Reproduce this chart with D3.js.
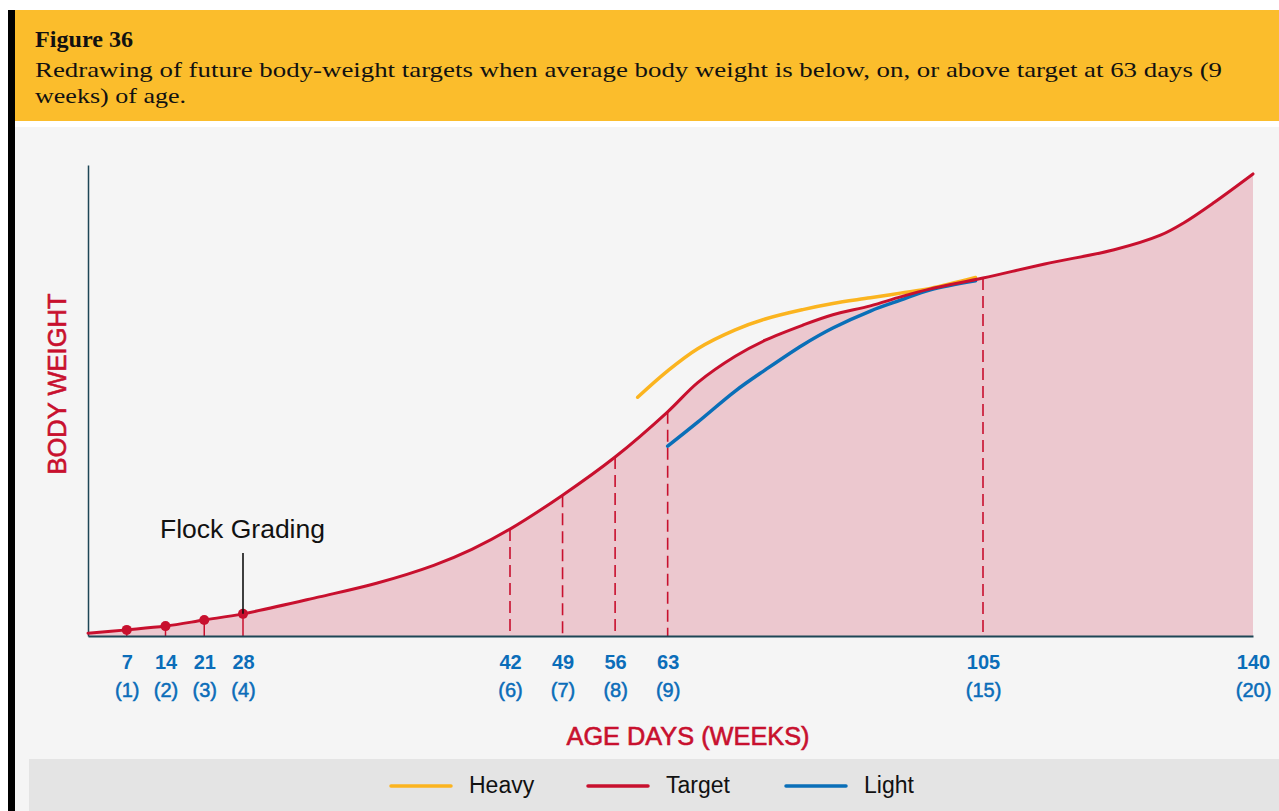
<!DOCTYPE html>
<html>
<head>
<meta charset="utf-8">
<script src="https://cdn.jsdelivr.net/npm/d3@7"></script>
<style>
  html, body { margin: 0; padding: 0; background: #ffffff; }
  svg { display: block; }
</style>
</head>
<body>
<svg id="chart" width="1279" height="811"></svg>
<script>
// ---------- data (y is in relative units 0–100) ----------
const tickDays  = [7, 14, 21, 28, 42, 49, 56, 63, 105, 140];
const tickWeeks = ["(1)", "(2)", "(3)", "(4)", "(6)", "(7)", "(8)", "(9)", "(15)", "(20)"];

const targetDays   = [0, 7, 14, 21, 28, 32, 35, 38, 40, 42, 49, 56, 63, 67, 72, 76, 81, 85, 90, 94, 98, 105, 113, 122, 128, 131, 135, 140];
const targetValues = [0.6, 1.3, 2.1, 3.4, 4.7, 8.3, 11.2, 15.0, 18.4, 22.7, 29.9, 38.0, 47.6, 53.8, 59.4, 62.8, 66.0, 68.2, 70.1, 72.0, 73.7, 76.0, 79.0, 82.0, 85.1, 87.7, 92.1, 98.1];

const heavyDays   = [59, 63, 67, 72, 76, 81, 85, 90, 94, 98, 104];
const heavyValues = [50.7, 56.3, 61.0, 65.0, 67.3, 69.3, 70.6, 71.8, 72.8, 73.8, 76.1];

const lightDays   = [63, 67, 72, 76, 81, 85, 90, 94, 98, 104];
const lightValues = [40.3, 45.4, 52.0, 56.5, 61.8, 65.4, 69.0, 71.3, 73.5, 75.4];

const gradingDays = [7, 14, 21, 28];
const dashedDays  = [42, 49, 56, 63, 105];

const legendNames = ["Heavy", "Target", "Light"];

// ---------- styles ----------
const RED = "#c8102e", YELLOW = "#fbb41f", BLUE = "#0a6fb8", TICKBLUE = "#0b6db9";
const FILL = "#ecc8cf", AXIS = "#1d4656";
const SANS = "'Liberation Sans', Arial, Helvetica, sans-serif";
const SERIF = "'Liberation Serif', 'Times New Roman', serif";

const svg = d3.select("#chart");

// page / panels
svg.append("rect").attr("x", 0).attr("y", 0).attr("width", 1279).attr("height", 811).attr("fill", "#ffffff");
svg.append("rect").attr("x", 15).attr("y", 10).attr("width", 1264).attr("height", 111).attr("fill", "#fbbd2c");
svg.append("rect").attr("x", 15).attr("y", 127).attr("width", 1264).attr("height", 684).attr("fill", "#f5f5f5");
svg.append("rect").attr("x", 29).attr("y", 759).attr("width", 1250).attr("height", 52).attr("fill", "#e4e4e4");
svg.append("rect").attr("x", 8).attr("y", 10).attr("width", 7).attr("height", 801).attr("fill", "#000000");

// header text
svg.append("text").attr("x", 35).attr("y", 47)
  .attr("font-family", SERIF).attr("font-weight", "bold").attr("font-size", 23)
  .attr("fill", "#111").attr("textLength", 98).attr("lengthAdjust", "spacingAndGlyphs")
  .text("Figure 36");
svg.append("text").attr("x", 35).attr("y", 77)
  .attr("font-family", SERIF).attr("font-size", 21).attr("fill", "#111")
  .attr("textLength", 1187).attr("lengthAdjust", "spacingAndGlyphs")
  .text("Redrawing of future body-weight targets when average body weight is below, on, or above target at 63 days (9");
svg.append("text").attr("x", 35).attr("y", 103)
  .attr("font-family", SERIF).attr("font-size", 21).attr("fill", "#111")
  .attr("textLength", 151).attr("lengthAdjust", "spacingAndGlyphs")
  .text("weeks) of age.");

// ---------- scales ----------
const x = d3.scaleLinear().domain([0, 28, 42, 105, 140]).range([88, 243, 510, 983, 1253]);
const y = d3.scaleLinear().domain([0, 100]).range([636, 165]);

const target = targetDays.map((d, i) => ({ day: d, v: targetValues[i] }));
const heavy  = heavyDays.map((d, i) => ({ day: d, v: heavyValues[i] }));
const light  = lightDays.map((d, i) => ({ day: d, v: lightValues[i] }));
const tv = d => target[targetDays.indexOf(d)].v;
const curve = d3.curveCatmullRom.alpha(0.5);

// area under target
svg.append("path").datum(target)
  .attr("fill", FILL)
  .attr("d", d3.area().x(d => x(d.day)).y0(y(0)).y1(d => y(d.v)).curve(curve));

// dashed verticals
svg.append("g").selectAll("line").data(dashedDays).join("line")
  .attr("x1", d => x(d)).attr("x2", d => x(d))
  .attr("y1", d => y(tv(d))).attr("y2", y(0))
  .attr("stroke", RED).attr("stroke-width", 1.6).attr("stroke-dasharray", "12,6");

// grading stems
svg.append("g").selectAll("line").data(gradingDays).join("line")
  .attr("x1", d => x(d)).attr("x2", d => x(d))
  .attr("y1", d => y(tv(d))).attr("y2", y(0))
  .attr("stroke", RED).attr("stroke-width", 1.5);

// axes
const yAxis = svg.append("g").attr("transform", `translate(${x(0)},0)`)
  .call(d3.axisLeft(y).tickValues([]).tickSizeOuter(0));
yAxis.select(".domain").attr("stroke", AXIS).attr("stroke-width", 1.5);

const xAxis = svg.append("g").attr("transform", `translate(0,${y(0)})`)
  .call(d3.axisBottom(x).tickValues(tickDays).tickSize(0).tickFormat(""));
xAxis.select(".domain").attr("stroke", AXIS).attr("stroke-width", 2);
xAxis.selectAll(".tick text").remove();
xAxis.selectAll(".tick").each(function (d, i) {
  const g = d3.select(this);
  g.append("text").attr("y", 33).attr("text-anchor", "middle")
    .attr("font-family", SANS).attr("font-weight", "bold").attr("font-size", 20)
    .attr("fill", TICKBLUE).text(d);
  g.append("text").attr("y", 61).attr("text-anchor", "middle")
    .attr("font-family", SANS).attr("font-size", 20)
    .attr("fill", TICKBLUE).attr("stroke", TICKBLUE).attr("stroke-width", 0.5)
    .text(tickWeeks[i]);
});

// lines
const line = d3.line().x(d => x(d.day)).y(d => y(d.v)).curve(curve);
svg.append("path").datum(heavy).attr("fill", "none").attr("stroke", YELLOW)
  .attr("stroke-width", 3.5).attr("stroke-linecap", "round").attr("d", line);
svg.append("path").datum(light).attr("fill", "none").attr("stroke", BLUE)
  .attr("stroke-width", 3.5).attr("stroke-linecap", "round").attr("d", line);
svg.append("path").datum(target).attr("fill", "none").attr("stroke", RED)
  .attr("stroke-width", 3).attr("stroke-linecap", "round").attr("d", line);

// grading dots
svg.append("g").selectAll("circle").data(gradingDays).join("circle")
  .attr("cx", d => x(d)).attr("cy", d => y(tv(d))).attr("r", 5).attr("fill", RED);

// flock grading annotation
svg.append("line").attr("x1", x(28)).attr("x2", x(28)).attr("y1", 553).attr("y2", y(tv(28)))
  .attr("stroke", "#111").attr("stroke-width", 1.6);
svg.append("text").attr("x", 160).attr("y", 538)
  .attr("font-family", SANS).attr("font-size", 25).attr("fill", "#111")
  .attr("textLength", 165).attr("lengthAdjust", "spacingAndGlyphs")
  .text("Flock Grading");

// axis titles
svg.append("text").attr("transform", "translate(66,384) rotate(-90)")
  .attr("text-anchor", "middle").attr("font-family", SANS).attr("font-size", 25)
  .attr("fill", RED).attr("stroke", RED).attr("stroke-width", 0.6)
  .attr("textLength", 181).attr("lengthAdjust", "spacingAndGlyphs")
  .text("BODY WEIGHT");
svg.append("text").attr("x", 688).attr("y", 745)
  .attr("text-anchor", "middle").attr("font-family", SANS).attr("font-size", 25)
  .attr("fill", RED).attr("stroke", RED).attr("stroke-width", 0.6)
  .attr("textLength", 243).attr("lengthAdjust", "spacingAndGlyphs")
  .text("AGE DAYS (WEEKS)");

// legend
const legendColors = [YELLOW, RED, BLUE];
const legendX = [391, 588, 786];
const lg = svg.append("g").selectAll("g").data(legendNames).join("g")
  .attr("transform", (d, i) => `translate(${legendX[i]},786)`);
lg.append("line").attr("x1", 0).attr("x2", 60).attr("y1", 0).attr("y2", 0)
  .attr("stroke", (d, i) => legendColors[i]).attr("stroke-width", 3.5).attr("stroke-linecap", "round");
lg.append("text").attr("x", 78).attr("y", 7)
  .attr("font-family", SANS).attr("font-size", 23).attr("fill", "#111").text(d => d);
</script>
</body>
</html>
